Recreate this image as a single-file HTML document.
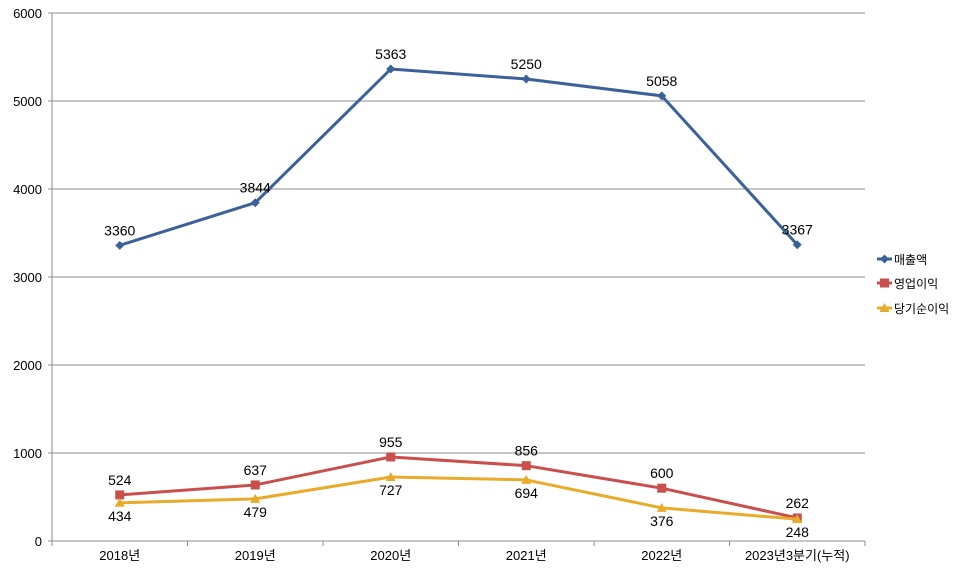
<!DOCTYPE html>
<html><head><meta charset="utf-8"><style>
body{margin:0;background:#fff;}
svg{display:block;font-family:"Liberation Sans","Noto Sans CJK KR",sans-serif;}
</style></head><body>
<svg id="c" width="960" height="574"></svg>
<script>
const categories=["2018년","2019년","2020년","2021년","2022년","2023년3분기(누적)"];
const revenue=[3360,3844,5363,5250,5058,3367];
const opIncome=[524,637,955,856,600,262];
const netIncome=[434,479,727,694,376,248];
const yTicks=[0,1000,2000,3000,4000,5000,6000];
const seriesNames=["매출액","영업이익","당기순이익"];

const NS="http://www.w3.org/2000/svg";
const svg=document.getElementById('c');
const L=52,R=865,T=13,B=541,yMax=6000;
const band=(R-L)/categories.length;
const x=i=>L+band*(i+0.5);
const y=v=>B-(v/yMax)*(B-T);
function el(t,a,p){const e=document.createElementNS(NS,t);for(const k in a)e.setAttribute(k,a[k]);(p||svg).appendChild(e);return e;}

yTicks.forEach(v=>{
  if(v>0){const g=el('line',{x1:L,x2:R,y1:y(v),y2:y(v),stroke:'#8c8c8c','stroke-width':1});
  
  }
  const t=el('text',{x:L-10,y:y(v)+5,'text-anchor':'end','font-size':13,fill:'#000'});
  t.textContent=v;
  
  
  const tk=el('line',{x1:L-4,x2:L,y1:y(v),y2:y(v),stroke:'#8c8c8c'});
  
  
});
const ya=el('line',{x1:L,x2:L,y1:T,y2:B+4,stroke:'#8c8c8c'});


const xa=el('line',{x1:L,x2:R,y1:B,y2:B,stroke:'#8c8c8c'});


for(let i=0;i<=categories.length;i++){
  const tk=el('line',{x1:L+band*i,x2:L+band*i,y1:B,y2:B+5,stroke:'#8c8c8c'});
  
  
}
categories.forEach((c,i)=>{
  const t=el('text',{x:x(i),y:B+19,'text-anchor':'middle','font-size':13,fill:'#000'});
  t.textContent=c;
  
  
});

const colors=['#3a6199','#c94f4c','#e8ab2a'];
const data=[revenue,opIncome,netIncome];
const labelOff=[-10,-10,18];
function marker(type,cx,cy,col,parent){
  let m;
  if(type===0)m=el('polygon',{points:`${cx},${cy-4.5} ${cx+4.5},${cy} ${cx},${cy+4.5} ${cx-4.5},${cy}`,fill:col},parent);
  else if(type===1)m=el('rect',{x:cx-4.5,y:cy-4.5,width:9,height:9,fill:col},parent);
  else m=el('polygon',{points:`${cx},${cy-5} ${cx+5},${cy+4} ${cx-5},${cy+4}`,fill:col},parent);
  return m;
}
data.forEach((arr,s)=>{
  const g=el('g',{});
  
  
  const p=el('polyline',{points:arr.map((v,i)=>x(i)+','+y(v)).join(' '),fill:'none',stroke:colors[s],'stroke-width':3,'stroke-linejoin':'round'},g);
  
  
  arr.forEach((v,i)=>{
    const m=marker(s,x(i),y(v),colors[s],g);
    
    
    const t=el('text',{x:x(i),y:y(v)+labelOff[s],'text-anchor':'middle','font-size':14,fill:'#000'},g);
    t.textContent=v;
    
    
  });
});
seriesNames.forEach((n,s)=>{
  const ly=[259,283,308][s];
  const g=el('g',{});
  
  
  el('line',{x1:877,x2:892,y1:ly,y2:ly,stroke:colors[s],'stroke-width':3},g);
  marker(s,884.5,ly,colors[s],g);
  const t=el('text',{x:894,y:ly+5,'font-size':12,fill:'#000'},g);
  t.textContent=n;
});
</script>
</body></html>
